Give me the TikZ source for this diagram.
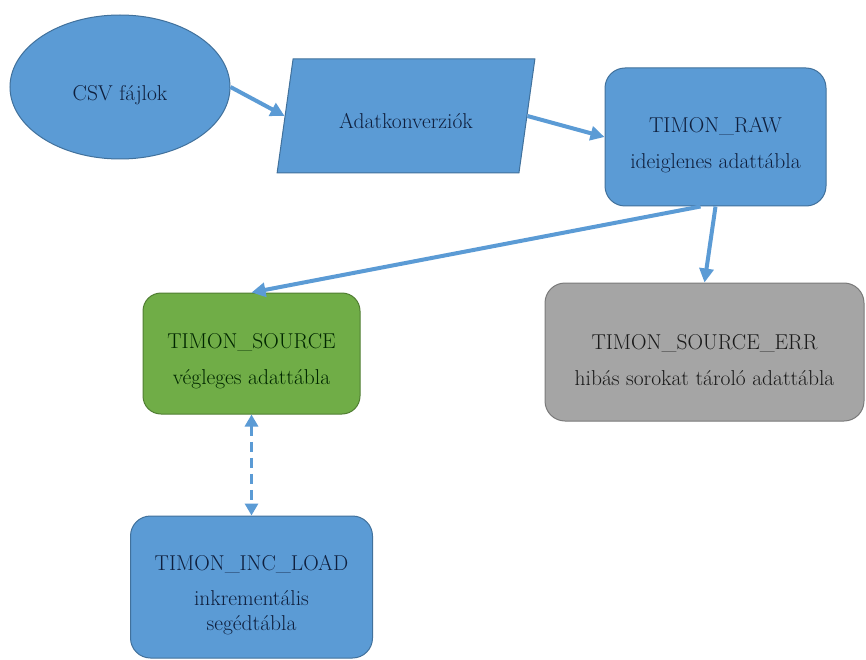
\documentclass[tikz,border=0pt]{standalone}
\usepackage{fontspec}
\usetikzlibrary{shapes.geometric,arrows.meta,calc}
\definecolor{bfill}{HTML}{5B9BD5}
\definecolor{bdraw}{HTML}{41719C}
\definecolor{gfill}{HTML}{70AD47}
\definecolor{gdraw}{HTML}{507E32}
\definecolor{afill}{HTML}{A5A5A5}
\definecolor{adraw}{HTML}{7A7A7A}
\definecolor{navy}{HTML}{0F1F3D}
\definecolor{arrowc}{HTML}{5B9BD5}
\begin{document}
\begin{tikzpicture}[x=1pt,y=-1pt,
  txt/.style={align=center,font=\fontsize{21.5}{36}\selectfont,yshift=-8pt,inner sep=0pt},
  boxbase/.style={draw,line width=1pt,inner sep=0pt,rounded corners=20pt},
  bluebox/.style={boxbase,fill=bfill,draw=bdraw},
  greenbox/.style={boxbase,fill=gfill,draw=gdraw},
  graybox/.style={boxbase,fill=afill,draw=adraw},
  flowarrow/.style={draw=arrowc,line width=4pt,-{Triangle[length=14pt,width=14pt]}},
  dasharrow/.style={draw=arrowc,line width=3.5pt,dash pattern=on 10pt off 6pt,{Triangle[length=12pt,width=13pt]}-{Triangle[length=12pt,width=13pt]}}
]
\useasboundingbox (0,0) rectangle (866,660);
\fill[white] (0,0) rectangle (866,660);

\node[ellipse,draw=bdraw,fill=bfill,line width=1pt,minimum width=220pt,minimum height=144pt,inner sep=0pt,
  label={[txt,text=navy]center:CSV fájlok}] (csv) at (120,87) {};

\node[trapezium,trapezium left angle=76,trapezium right angle=104,trapezium stretches=true,
  draw=bdraw,fill=bfill,line width=1pt,minimum width=258pt,minimum height=114pt,inner sep=2pt,
  text=navy,font=\fontsize{21.5}{36}\selectfont,text height=30pt,text depth=5pt] (par) at (406,116) {Adatkonverziók};

\node[bluebox,minimum width=221pt,minimum height=138pt,
  label={[txt,text=navy]center:{TIMON\_RAW\\ideiglenes adattábla}}] (raw) at (715.5,137) {};

\node[greenbox,minimum width=217pt,minimum height=121pt,rounded corners=18pt,
  label={[txt,text=black!85!green]center:{TIMON\_SOURCE\\végleges adattábla}}] (src) at (251.5,353.5) {};

\node[graybox,minimum width=319pt,minimum height=138pt,
  label={[txt,text=black!90]center:{TIMON\_SOURCE\_ERR\\hibás sorokat tároló adattábla}}] (err) at (704.5,352) {};

\node[bluebox,minimum width=242pt,minimum height=142pt,
  label={[txt,text=navy,font=\fontsize{21.5}{25}\selectfont]center:{TIMON\_INC\_LOAD\\[10pt]inkrementális\\segédtábla}}] (inc) at (251.5,587) {};

\draw[flowarrow] (csv.east) -- (par.west);
\draw[flowarrow] (par.east) -- (raw.west);
\draw[flowarrow] ($(raw.south)+(-15,0)$) -- (src.north);
\draw[flowarrow] (raw.south) -- (err.north);
\draw[dasharrow] (src.south) -- (inc.north);
\end{tikzpicture}
\end{document}
